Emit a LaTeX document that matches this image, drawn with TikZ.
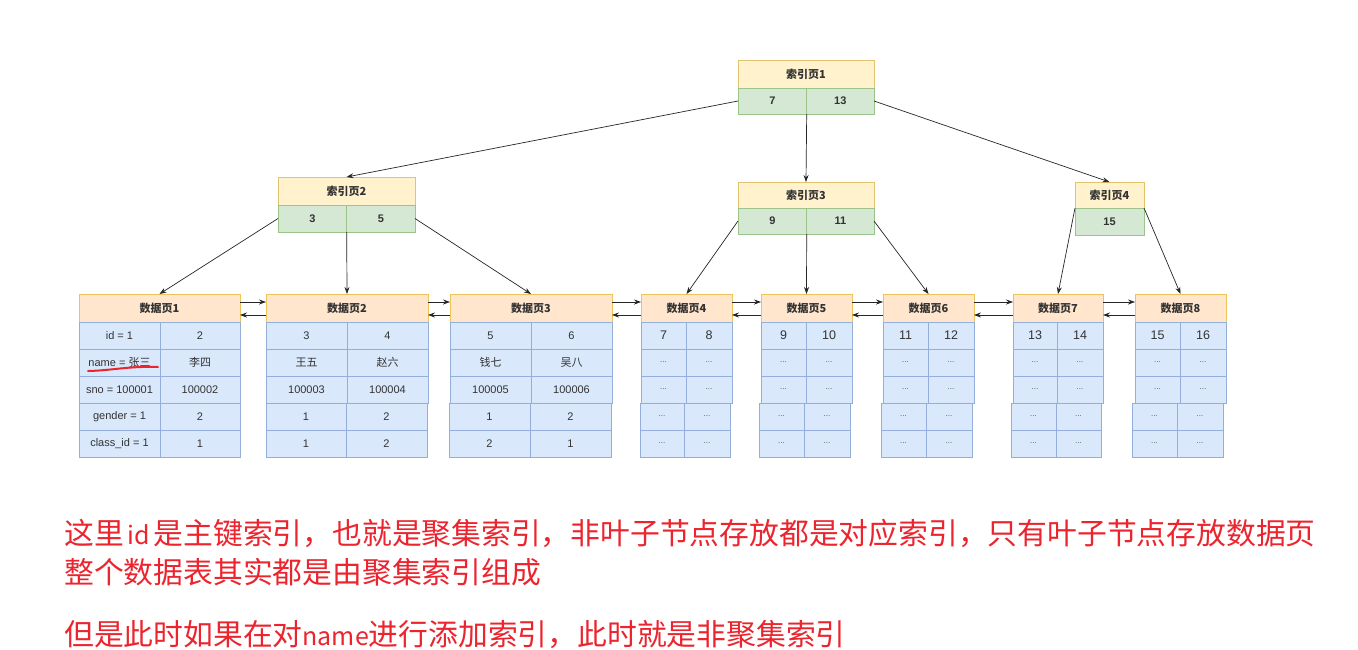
\documentclass[tikz,border=0pt]{standalone}
\usepackage{fontspec}
\setmainfont{Liberation Sans}
\newfontfamily\zh{Noto Sans CJK SC}
\usetikzlibrary{arrows.meta}
\definecolor{ihfill}{HTML}{FFF2CC}\definecolor{ihdraw}{HTML}{E3C46E}
\definecolor{irfill}{HTML}{D5E8D4}\definecolor{irdraw}{HTML}{9CC48A}
\definecolor{dhfill}{HTML}{FFE6CC}\definecolor{dhdraw}{HTML}{EDC35C}
\definecolor{cfill}{HTML}{DAE8FC}\definecolor{cdraw}{HTML}{93AEDB}
\definecolor{txt}{HTML}{333333}
\definecolor{note}{RGB}{236,36,46}
\newcommand\kf{\fontsize{12.5}{14}\selectfont}
\newcommand\dd{{\fontsize{8}{10}\selectfont\color{black!65}...}}
\newcommand\lat[1]{{\fontsize{25}{30}\selectfont #1}}
\tikzset{
  basebox/.style={draw, rectangle, inner sep=0pt, outer sep=0pt, line width=0.8pt, text=txt, font=\fontsize{11}{13}\selectfont},
  ihead/.style={basebox, fill=ihfill, draw=ihdraw, font=\zh\bfseries\fontsize{11}{13}\selectfont},
  irow/.style={basebox, fill=irfill, draw=irdraw, font=\bfseries\fontsize{11}{13}\selectfont},
  dhead/.style={basebox, fill=dhfill, draw=dhdraw, font=\zh\bfseries\fontsize{11}{13}\selectfont},
  cell/.style={basebox, fill=cfill, draw=cdraw},
  arr/.style={draw=black!85, line width=0.7pt, -{Stealth[length=7pt,width=5pt]}},
  notetext/.style={anchor=west, inner sep=0pt, text=note, font=\zh\fontsize{29.8}{36}\selectfont}
}
\newcommand\bx[7]{\node[#6, minimum width={(#4-#2)*1pt}, minimum height={(#5-#3)*1pt}] (#1) at ({(#2+#4)/2},{(#3+#5)/2}) {#7};}
\newcommand\dpage[8]{%
  \bx{dp#1}{#2}{294}{#4}{322}{dhead}{数据页#1}
  \foreach[count=\r] \a/\b in {#8}{%
    \pgfmathsetmacro\ya{295+27*\r}%
    \pgfmathsetmacro\yb{\ya+27}%
    \ifnum\r>3 \def\u{#5}\def\v{#6}\def\w{#7}\else\def\u{#2}\def\v{#3}\def\w{#4}\fi
    \bx{d#1r\r a}{\u}{\ya}{\v}{\yb}{cell}{\a}
    \bx{d#1r\r b}{\v}{\ya}{\w}{\yb}{cell}{\b}
  }%
}
\begin{document}
\begin{tikzpicture}[x=1pt,y=-1pt]
\fill[white] (0,0) rectangle (1358,649);
\useasboundingbox (0,0) rectangle (1358,649);

% index pages
\bx{ip1h}{738}{60}{874}{88}{ihead}{索引页1}
\bx{ip1a}{738}{88}{806.7}{114}{irow}{7}
\bx{ip1b}{806.7}{88}{874}{114}{irow}{13}
\bx{ip2h}{278}{177}{415}{205}{ihead}{索引页2}
\bx{ip2a}{278}{205}{346.7}{232}{irow}{3}
\bx{ip2b}{346.7}{205}{415}{232}{irow}{5}
\bx{ip3h}{738}{182}{874}{208}{ihead}{索引页3}
\bx{ip3a}{738}{208}{806.7}{234}{irow}{9}
\bx{ip3b}{806.7}{208}{874}{234}{irow}{11}
\bx{ip4h}{1075}{182}{1144}{208}{ihead}{索引页4}
\bx{ip4r}{1075}{208}{1144}{235}{irow}{15}

% data pages
\dpage{1}{79}{160}{240}{79}{160}{240}{id = 1/2, name = {\zh 张三}/{\zh 李四}, sno = 100001/100002, gender = 1/2, class\_id = 1/1}
\dpage{2}{266}{347}{428}{266}{346}{427}{3/4, {\zh 王五}/{\zh 赵六}, 100003/100004, 1/2, 1/2}
\dpage{3}{450}{531}{612}{449}{530}{611}{5/6, {\zh 钱七}/{\zh 吴八}, 100005/100006, 1/2, 2/1}
\dpage{4}{641}{686}{732}{640}{684}{730}{{\kf 7}/{\kf 8}, \dd/\dd, \dd/\dd, \dd/\dd, \dd/\dd}
\dpage{5}{761}{806}{852}{759}{804}{850}{{\kf 9}/{\kf 10}, \dd/\dd, \dd/\dd, \dd/\dd, \dd/\dd}
\dpage{6}{883}{928}{974}{881}{926}{972}{{\kf 11}/{\kf 12}, \dd/\dd, \dd/\dd, \dd/\dd, \dd/\dd}
\dpage{7}{1013}{1057}{1103}{1011}{1056}{1101}{{\kf 13}/{\kf 14}, \dd/\dd, \dd/\dd, \dd/\dd, \dd/\dd}
\dpage{8}{1135}{1180}{1226}{1132}{1177}{1223}{{\kf 15}/{\kf 16}, \dd/\dd, \dd/\dd, \dd/\dd, \dd/\dd}

% tree connectors
\draw[arr] (ip1a.west) -- (ip2h.north);
\draw[arr] (ip1a.south east) -- (ip3h.north);
\draw[arr] (ip1b.east) -- (ip4h.north);
\draw[arr] (ip2a.west) -- (dp1.north);
\draw[arr] (ip2a.south east) -- (dp2.north);
\draw[arr] (ip2b.east) -- (dp3.north);
\draw[arr] (ip3a.west) -- (dp4.north);
\draw[arr] (ip3a.south east) -- (dp5.north);
\draw[arr] (ip3b.east) -- (dp6.north);
\draw[arr] (ip4r.north west) -- (dp7.north);
\draw[arr] (ip4r.north east) -- (dp8.north);

% sibling links
\foreach \i/\j in {1/2,2/3,3/4,4/5,5/6,6/7,7/8}{
  \draw[arr] ([yshift=6pt]dp\i.east) -- ([yshift=6pt]dp\j.west);
  \draw[arr] ([yshift=-7pt]dp\j.west) -- ([yshift=-7pt]dp\i.east);
}

% red underline
\draw[note, line width=2pt, line cap=round] (88,371) .. controls (112,370.5) and (128,366) .. (158,367);

% notes
\node[notetext] (n1) at (64,533) {这里\makebox[1em]{\lat{id}}是主键索引，也就是聚集索引，非叶子节点存放都是对应索引，只有叶子节点存放数据页};
\node[notetext] (n2) at (64,572) {整个数据表其实都是由聚集索引组成};
\node[notetext] (n3) at (64,635) {但是此时如果在对\lat{name}进行添加索引，此时就是非聚集索引};
\end{tikzpicture}
\end{document}
